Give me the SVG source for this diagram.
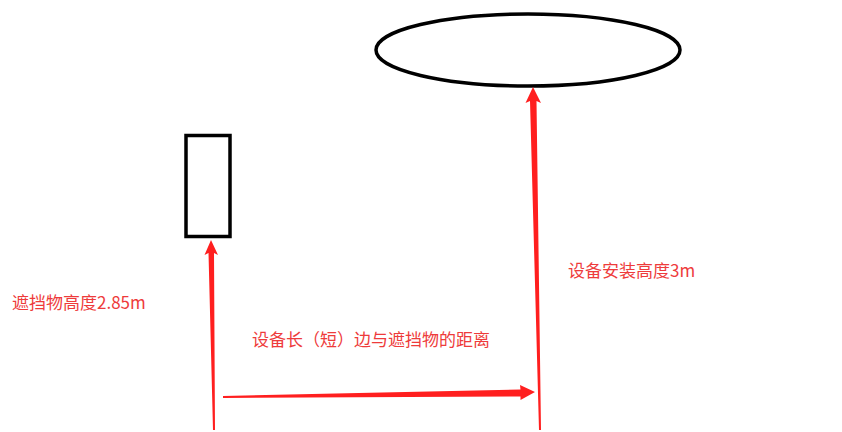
<svg xmlns="http://www.w3.org/2000/svg" width="842" height="432" viewBox="0 0 842 432">
<style>
.shape{fill:none;stroke:#000;stroke-width:3.5}
.arrow{fill:#ff1f1f;stroke:none}
.lbl{font-family:"Noto Sans CJK SC","Microsoft YaHei",sans-serif;font-size:17px;fill:#ee3b3b}
</style>
<rect width="842" height="432" fill="#fff"/>
<g id="device"><ellipse class="shape" cx="528" cy="50" rx="152" ry="36"/></g>
<g id="obstacle"><rect class="shape" x="186" y="135.5" width="44" height="101"/></g>
<g id="connectors">
<polygon class="arrow" points="211,240 218,255 214,253 215,430 213,430 208.5,253 204.5,255"/>
<polygon class="arrow" points="533,87 541,103 536.5,101 541,430 539,430 530,101 525.5,103"/>
<polygon class="arrow" points="535,392 520,385 520.5,389.5 223,396 223,398 520.5,396.5 520.5,400"/>
</g>
<g id="labels">
<text class="lbl" x="12" y="309">遮挡物高度2.85m</text>
<text class="lbl" x="252" y="346">设备长（短）边与遮挡物的距离</text>
<text class="lbl" x="568" y="277">设备安装高度3m</text>
</g>
</svg>
